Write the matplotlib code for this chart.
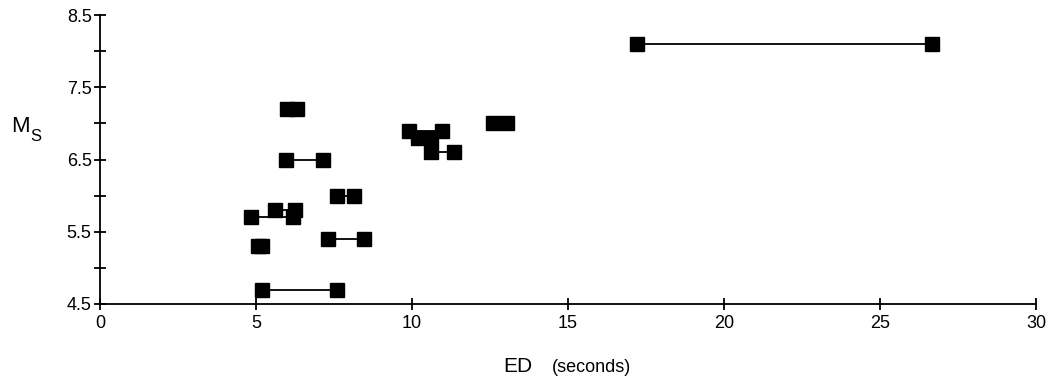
import numpy as np
import matplotlib as mpl
import matplotlib.pyplot as plt

mpl.use("Agg")

plt.rcParams.update({"font.family": ["Liberation Sans", "DejaVu Sans"]})
plt.rcParams.update({"font.size": 13})

# each pair: magnitude Ms, and the two ED estimates (seconds)
ms = [8.1, 7.2, 7.0, 6.9, 6.8, 6.6, 6.5, 6.0, 5.8, 5.7, 5.4, 5.3, 4.7]
ed_lo = [17.2, 6.0, 12.6, 9.9, 10.2, 10.6, 5.95, 7.6, 5.6, 4.85, 7.3, 5.05, 5.2]
ed_hi = [26.65, 6.3, 13.05, 10.95, 10.6, 11.35, 7.15, 8.15, 6.25, 6.2, 8.45, 5.2, 7.6]

fig = plt.figure(figsize=(10.5, 3.81), dpi=100)
ax = fig.add_axes([0.0952, 0.2021, 0.8915, 0.7585])

for m, a, b in zip(ms, ed_lo, ed_hi):
    ax.plot([a, b], [m, m], color="black", lw=1.3, marker="s",
            markersize=9.5, markerfacecolor="black", markeredgecolor="black",
            solid_capstyle="butt")

ax.set_xlim(0, 30)
ax.set_ylim(4.5, 8.5)
ax.set_xticks([0, 5, 10, 15, 20, 25, 30])
ax.set_yticks([4.5, 5.5, 6.5, 7.5, 8.5])
ax.set_yticks([5.0, 6.0, 7.0, 8.0], minor=True)
ax.set_yticklabels(["4.5", "5.5", "6.5", "7.5", "8.5"])

for s in ["top", "right"]:
    ax.spines[s].set_visible(False)
ax.spines["left"].set_linewidth(1.3)
ax.spines["bottom"].set_linewidth(1.3)
ax.tick_params(which="both", direction="inout", length=8, width=1.3, labelsize=13)
ax.tick_params(axis="y", which="minor", length=8, width=1.3)
ax.tick_params(axis="y", pad=2)
ax.tick_params(axis="x", pad=4)

fig.text(0.5067, 0.024, "ED", fontsize=15, ha="right", va="baseline")
fig.text(0.5257, 0.024, "(seconds)", fontsize=13, ha="left", va="baseline")
fig.text(0.011, 0.6535, "M", fontsize=16, ha="left", va="baseline")
fig.text(0.0285, 0.631, "S", fontsize=12, ha="left", va="baseline")

plt.savefig("out.png", dpi=100)
